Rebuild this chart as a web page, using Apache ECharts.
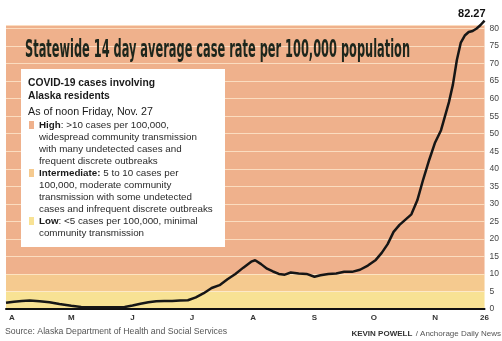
<!DOCTYPE html>
<html>
<head>
<meta charset="utf-8">
<script src="https://cdn.jsdelivr.net/npm/echarts@6/dist/echarts.min.js"></script>
<style>
  html, body { margin: 0; padding: 0; background: #fff; }
  #chart { width: 502px; height: 341px; }
</style>
</head>
<body>
<div id="chart"></div>
<script>
// 14 day average case rate, sampled days
const dates = ['2020-03-29', '2020-04-02', '2020-04-06', '2020-04-10', '2020-04-15', '2020-04-20', '2020-04-25',
  '2020-05-01', '2020-05-06', '2020-05-10', '2020-05-15', '2020-05-20', '2020-05-25', '2020-05-28',
  '2020-06-01', '2020-06-05', '2020-06-09', '2020-06-13', '2020-06-17', '2020-06-21', '2020-06-25', '2020-06-29',
  '2020-07-03', '2020-07-07', '2020-07-11', '2020-07-15', '2020-07-19', '2020-07-23', '2020-07-27', '2020-07-31',
  '2020-08-02', '2020-08-05', '2020-08-08', '2020-08-11', '2020-08-14', '2020-08-17', '2020-08-20', '2020-08-24', '2020-08-28',
  '2020-09-01', '2020-09-04', '2020-09-08', '2020-09-12', '2020-09-16', '2020-09-20', '2020-09-24', '2020-09-28',
  '2020-10-02', '2020-10-05', '2020-10-08', '2020-10-11', '2020-10-14', '2020-10-17', '2020-10-20', '2020-10-23', '2020-10-26', '2020-10-29',
  '2020-11-01', '2020-11-04', '2020-11-06', '2020-11-08', '2020-11-10', '2020-11-12', '2020-11-14', '2020-11-16',
  '2020-11-18', '2020-11-20', '2020-11-22', '2020-11-24', '2020-11-26']
const rates = [1.8, 2.1, 2.3, 2.4, 2.2, 1.9, 1.4,
  0.9, 0.6, 0.5, 0.5, 0.5, 0.5, 0.6,
  1.0, 1.5, 1.9, 2.2, 2.3, 2.3, 2.4, 2.5,
  3.3, 4.5, 6.0, 6.8, 8.5, 10.0, 11.8, 13.5,
  13.9, 12.8, 11.5, 10.7, 10.0, 9.8, 10.4, 10.1, 10.0,
  9.2, 9.6, 10.0, 10.1, 10.6, 10.6, 11.2, 12.4,
  14.0, 16.0, 18.5, 22.0, 24.0, 25.5, 27.0, 31.0, 37.0, 42.5,
  47.5, 51.0, 55.0, 59.0, 64.0, 71.0, 76.0, 78.0,
  79.0, 79.3, 80.0, 81.0, 82.27]

const xTickDates = ['2020-04-01', '2020-05-01', '2020-06-01', '2020-07-01', '2020-08-01', '2020-09-01', '2020-10-01', '2020-11-01', '2020-11-26']
const xTickLabels = ['A', 'M', 'J', 'J', 'A', 'S', 'O', 'N', '26']

// risk levels: [from, to]
const levelNames = ['Low', 'Intermediate', 'High']
const levelRanges = [[0, 5], [5, 10], [10, 81]]
const levelColors = ['#f8e294', '#f5ca8f', '#efb18c']

const myChart = echarts.init(document.getElementById('chart'))

const toTime = d => Date.UTC(+d.slice(0, 4), +d.slice(5, 7) - 1, +d.slice(8, 10))
const tickTimes = xTickDates.map(toTime)
const lastRate = rates[rates.length - 1]
const lineData = dates.map((d, i) => [toTime(d), rates[i]])

const ff = 'Liberation Sans'
const title = 'Statewide 14 day average case rate per 100,000 population'
const titleFont = 'bold 24px "DejaVu Sans Condensed"'
// squeeze the headline into its width like the print condensed face
const mctx = document.createElement('canvas').getContext('2d')
mctx.font = titleFont
const titleScale = 385 / mctx.measureText(title).width

const legendLines = [
  { y: 125, box: 2, parts: [['b', 'High'], ['n', ': >10 cases per 100,000,']] },
  { y: 137, parts: [['n', 'widespread community transmission']] },
  { y: 149, parts: [['n', 'with many undetected cases and']] },
  { y: 161, parts: [['n', 'frequent discrete outbreaks']] },
  { y: 173, box: 1, parts: [['b', 'Intermediate:'], ['n', ' 5 to 10 cases per']] },
  { y: 185, parts: [['n', '100,000, moderate community']] },
  { y: 197, parts: [['n', 'transmission with some undetected']] },
  { y: 209, parts: [['n', 'cases and infrequent discrete outbreaks']] },
  { y: 221, box: 0, parts: [['b', 'Low'], ['n', ': <5 cases per 100,000, minimal']] },
  { y: 233, parts: [['n', 'community transmission']] }
]
const graphics = [
  {
    type: 'text', x: 25, y: 39, z: 10, scaleX: titleScale, originX: 0,
    style: { text: title, font: titleFont, fill: '#1d261c' }
  },
  {
    type: 'rect', shape: { x: 21, y: 69, width: 204, height: 178 }, z: 10,
    style: { fill: '#ffffff' }
  },
  { type: 'text', x: 28, y: 77, z: 11, style: { text: 'COVID-19 cases involving\nAlaska residents', font: 'bold 10.3px ' + ff, lineHeight: 13, fill: '#1a1a1a' } },
  { type: 'text', x: 28, y: 107, z: 11, style: { text: 'As of noon Friday, Nov. 27', font: '10.7px ' + ff, fill: '#1a1a1a' } }
]
legendLines.forEach(l => {
  if (l.box !== undefined) {
    graphics.push({ type: 'rect', shape: { x: 29, y: l.y - 4, width: 5, height: 8 }, z: 11, style: { fill: levelColors[l.box] } })
  }
  graphics.push({
    type: 'text', x: 39, y: l.y, z: 11,
    style: {
      text: l.parts.map(p => '{' + p[0] + '|' + p[1] + '}').join(''),
      verticalAlign: 'middle',
      rich: {
        b: { fontFamily: ff, fontWeight: 'bold', fontSize: 9.8, fill: '#1a1a1a' },
        n: { fontFamily: ff, fontSize: 9.8, fill: '#2a2a2a' }
      }
    }
  })
})
graphics.push(
  { type: 'text', x: 5, y: 332, style: { text: 'Source: Alaska Department of Health and Social Services', font: '8.7px ' + ff, fill: '#555', verticalAlign: 'middle' } },
  {
    type: 'text', right: 1, top: 328,
    style: {
      text: '{b|KEVIN POWELL} {n|/ Anchorage Daily News}',
      rich: {
        b: { fontFamily: ff, fontWeight: 'bold', fontSize: 8, fill: '#333' },
        n: { fontFamily: ff, fontSize: 8, fill: '#555' }
      }
    }
  }
)

myChart.setOption({
  animation: false,
  backgroundColor: '#ffffff',
  grid: {
    left: 6,
    right: 17,
    top: 25,
    bottom: 32
  },
  xAxis: {
    type: 'value',
    min: toTime('2020-03-29'),
    max: toTime('2020-11-26'),
    z: 4,
    axisLine: {
      onZero: false,
      lineStyle: { color: '#111', width: 2 }
    },
    axisTick: { show: false },
    splitLine: { show: false },
    axisLabel: {
      customValues: tickTimes,
      margin: 5,
      fontFamily: ff,
      fontWeight: 'bold',
      fontSize: 8,
      color: '#333',
      hideOverlap: false,
      formatter: function (val) {
        const i = tickTimes.indexOf(val)
        return i >= 0 ? xTickLabels[i] : ''
      }
    }
  },
  yAxis: {
    type: 'value',
    position: 'right',
    min: 0,
    max: 81,
    interval: 5,
    z: 3,
    axisLine: { show: false },
    axisTick: { show: false },
    splitLine: {
      lineStyle: { color: 'rgba(255,236,210,0.75)', width: 1 }
    },
    axisLabel: {
      margin: 5,
      fontFamily: ff,
      fontSize: 8.5,
      color: '#444',
      formatter: v => (v % 5 === 0 ? String(v) : '')
    }
  },
  graphic: graphics,
  series: [
    {
      // risk bands
      type: 'line',
      z: 1,
      data: [],
      markArea: {
        silent: true,
        data: levelRanges.map((r, i) => [
          { name: levelNames[i], yAxis: r[0], itemStyle: { color: levelColors[i], opacity: 1 }, label: { show: false } },
          { yAxis: r[1] }
        ])
      }
    },
    {
      name: 'Case rate',
      type: 'line',
      z: 5,
      clip: false,
      showSymbol: false,
      symbol: 'none',
      data: lineData,
      lineStyle: { color: '#161616', width: 2.5 },
      endLabel: {
        show: true,
        formatter: String(lastRate),
        distance: 0,
        align: 'right',
        verticalAlign: 'bottom',
        offset: [1, -1],
        fontFamily: ff,
        fontWeight: 'bold',
        fontSize: 11,
        color: '#111'
      }
    }
  ]
})
</script>
</body>
</html>
